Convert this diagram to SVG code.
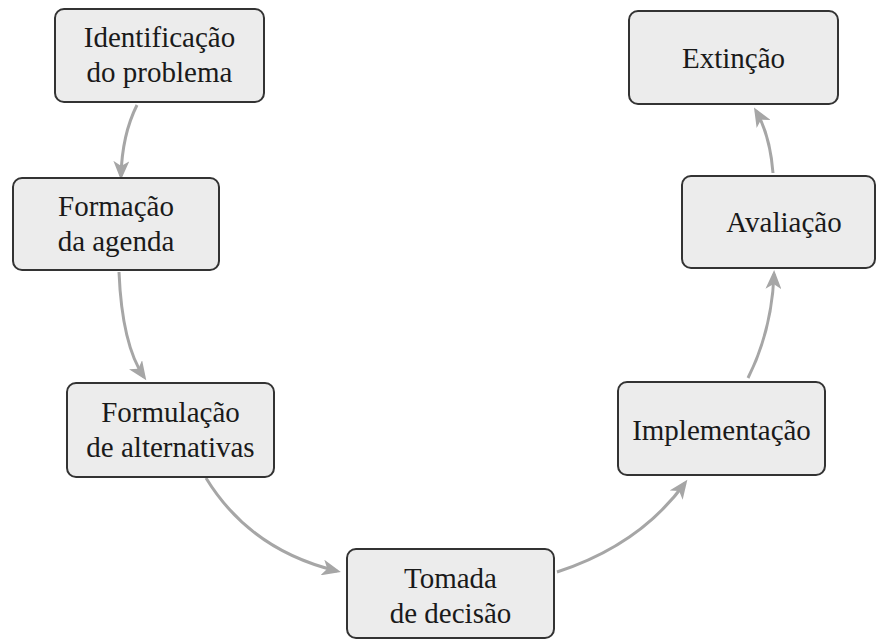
<svg xmlns="http://www.w3.org/2000/svg" width="877" height="639" viewBox="0 0 877 639">
<defs>
<style>
.box{fill:#ececec;stroke:#333333;stroke-width:2}
.lbl{font-family:"Liberation Serif","Times New Roman",serif;font-size:29px;fill:#1a1a1a;text-anchor:middle}
.edge{fill:none;stroke:#a6a6a6;stroke-width:3}
</style>
<marker id="arr" markerUnits="userSpaceOnUse" markerWidth="20" markerHeight="16" viewBox="0 0 20 16" refX="15" refY="8" orient="auto">
<path d="M0,0 L19,8 L0,16 L5,8 z" fill="#a6a6a6"/>
</marker>
</defs>
<rect width="877" height="639" fill="#ffffff"/>
<g id="connectors">
<path class="edge" d="M137,105 Q122,135 121,176" marker-end="url(#arr)"/>
<path class="edge" d="M119,272 Q122,345 144,377" marker-end="url(#arr)"/>
<path class="edge" d="M206,478 Q250,550 337,571" marker-end="url(#arr)"/>
<path class="edge" d="M557,572 Q640,545 685,483" marker-end="url(#arr)"/>
<path class="edge" d="M748,378 Q772,330 774,274" marker-end="url(#arr)"/>
<path class="edge" d="M773,173 Q770,135 756,111" marker-end="url(#arr)"/>
</g>
<g id="n1">
<rect class="box" x="55" y="9" width="209" height="93" rx="9"/>
<text class="lbl" x="159.5" y="47">Identificação</text>
<text class="lbl" x="159.5" y="82">do problema</text>
</g>
<g id="n2">
<rect class="box" x="13" y="178" width="206" height="92" rx="9"/>
<text class="lbl" x="116" y="216">Formação</text>
<text class="lbl" x="116" y="251">da agenda</text>
</g>
<g id="n3">
<rect class="box" x="67" y="383" width="207" height="94" rx="9"/>
<text class="lbl" x="170.5" y="422">Formulação</text>
<text class="lbl" x="170.5" y="457">de alternativas</text>
</g>
<g id="n4">
<rect class="box" x="347" y="549" width="207" height="89" rx="9"/>
<text class="lbl" x="450.5" y="588">Tomada</text>
<text class="lbl" x="450.5" y="623">de decisão</text>
</g>
<g id="n5">
<rect class="box" x="618" y="382" width="207" height="93" rx="9"/>
<text class="lbl" x="721.5" y="440">Implementação</text>
</g>
<g id="n6">
<rect class="box" x="682" y="176" width="193" height="92" rx="9"/>
<text class="lbl" x="784" y="232">Avaliação</text>
</g>
<g id="n7">
<rect class="box" x="629" y="11" width="209" height="93" rx="9"/>
<text class="lbl" x="733.5" y="68">Extinção</text>
</g>
</svg>
